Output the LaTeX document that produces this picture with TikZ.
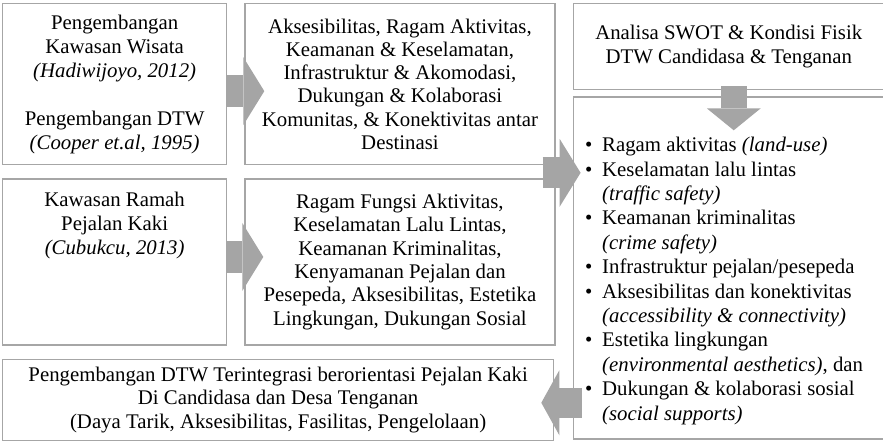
\documentclass[tikz,border=0pt]{standalone}
\usepackage{fontspec}
\setmainfont{Liberation Serif}
\usetikzlibrary{positioning,arrows.meta,calc}
\definecolor{boxgray}{HTML}{A6A6A6}
\definecolor{arrgray}{HTML}{A5A5A5}
\newcommand{\bfont}[1][24]{\fontsize{20.8}{#1}\selectfont}
\newcommand{\bul}{\makebox[17pt][l]{•}}
\newcommand{\ind}{\hspace*{17pt}}

\tikzset{
  box/.style={draw=boxgray, line width=1.3pt, inner sep=0pt, align=center, font=\bfont},
  blockarr/.style={arrgray, line width=32pt, -{Triangle[length=21pt,width=68pt,line width=0pt]}},
}

\begin{document}
\begin{tikzpicture}[x=1pt,y=-1pt,node distance=17pt]
\useasboundingbox (0,0) rectangle (883,446);

% top row
\node[box, minimum width=224pt, minimum height=161pt, anchor=north west] (A) at (2,3)
  {Pengembangan\\Kawasan Wisata\\\textit{(Hadiwijoyo, 2012)}\\[24pt]Pengembangan DTW\\\textit{(Cooper et.al, 1995)}};
\node[box, minimum width=310pt, minimum height=161pt, font={\bfont[23.3]}, right=of A] (B)
  {Aksesibilitas, Ragam Aktivitas,\\Keamanan \& Keselamatan,\\Infrastruktur \& Akomodasi,\\Dukungan \& Kolaborasi\\Komunitas, \& Konektivitas antar\\Destinasi};
\node[box, minimum width=311pt, minimum height=86pt, anchor=north west] (C) at ($(B.north east)+(17,0)$)
  {Analisa SWOT \& Kondisi Fisik\\DTW Candidasa \& Tenganan};
\node[box, minimum width=311pt, minimum height=342pt, below=6pt of C] (D) {};
\node[font={\bfont[24.4]}, align=left, inner sep=0pt, anchor=base west] (Dtext) at (585,420)
  {\bul Ragam aktivitas \textit{(land-use)}\\
   \bul Keselamatan lalu lintas\\
   \ind\textit{(traffic safety)}\\
   \bul Keamanan kriminalitas\\
   \ind\textit{(crime safety)}\\
   \bul Infrastruktur pejalan/pesepeda\\
   \bul Aksesibilitas dan konektivitas\\
   \ind\textit{(accessibility \& connectivity)}\\
   \bul Estetika lingkungan\\
   \ind\textit{(environmental aesthetics)}, dan\\
   \bul Dukungan \& kolaborasi sosial\\
   \ind\textit{(social supports)}};

% middle row
\node[box, minimum width=224pt, minimum height=166pt, below=13pt of A] (E) {};
\node[font=\bfont, align=center, inner sep=0pt, anchor=base] (Etext) at ($(E.north)+(0,76)$)
  {Kawasan Ramah\\Pejalan Kaki\\\textit{(Cubukcu, 2013)}};
\node[box, minimum width=310pt, minimum height=166pt, font={\bfont[23.3]}, right=of E] (F)
  {Ragam Fungsi Aktivitas,\\Keselamatan Lalu Lintas,\\Keamanan Kriminalitas,\\Kenyamanan Pejalan dan\\Pesepeda, Aksesibilitas, Estetika\\Lingkungan, Dukungan Sosial};

% bottom row
\node[box, minimum width=551pt, minimum height=81pt, font={\bfont[23.5]}, below=13pt of E.south west, anchor=north west] (G)
  {Pengembangan DTW Terintegrasi berorientasi Pejalan Kaki\\Di Candidasa dan Desa Tenganan\\(Daya Tarik, Aksesibilitas, Fasilitas, Pengelolaan)};

% block arrows
\coordinate (mid) at ($(B.south east)!.5!(F.north east)$);
\draw[blockarr] ([shift={(-1,7)}]A.east) -- ([shift={(20,7)}]B.west);
\draw[blockarr] ([shift={(-1,-5)}]E.east) -- ([shift={(19,-5)}]F.west);
\draw[blockarr, line width=31pt] ([shift={(-13,1)}]mid) -- ([shift={(8,1)}]D.west |- mid);
\draw[blockarr, line width=26pt, -{Triangle[length=22pt,width=54pt,line width=0pt]}] ([shift={(5,-4)}]C.south) -- ([shift={(5,34)}]D.north);
\draw[blockarr, line width=30pt, -{Triangle[length=18pt,width=65pt,line width=0pt]}] ([shift={(9,3)}]D.west |- G.east) -- ([shift={(-13,3)}]G.east);
\end{tikzpicture}
\end{document}
